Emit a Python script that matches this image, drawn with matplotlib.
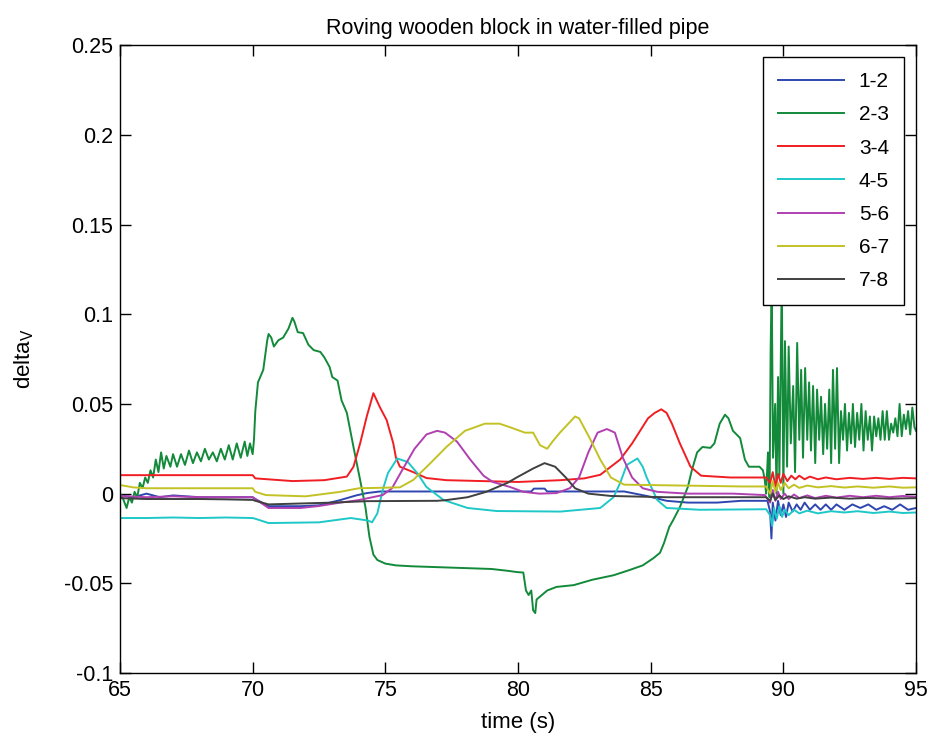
import matplotlib
matplotlib.use("Agg")
import matplotlib.pyplot as plt
from matplotlib.ticker import FixedLocator

plt.rcParams['font.family'] = ['Liberation Sans', 'DejaVu Sans']

labels = ["1-2", "2-3", "3-4", "4-5", "5-6", "6-7", "7-8"]
colors = ["#2f46b0", "#128a3a", "#f01e23", "#1ec8c8", "#b040b0", "#c2c224", "#404040"]

# 1-2
t12 = [65, 65.5, 66, 66.5, 67, 68, 69, 70, 70.1, 70.6, 71.8, 72.5, 73.3, 73.9, 74.3, 74.8,
       78.6, 80.5, 80.6, 81.0, 81.1, 84.0, 84.85, 85.6, 86.4, 87.5, 88.4, 89.4,
       89.5, 89.55, 89.6, 89.7, 89.8, 89.9, 90.0, 90.1, 90.2, 90.35, 90.5, 90.65, 90.8,
       91.0, 91.2, 91.4, 91.6, 91.8, 92.0, 92.3, 92.6, 92.9, 93.2, 93.5, 93.8, 94.1,
       94.4, 94.7, 95.0]
v12 = [-0.001, -0.002, 0.000, -0.002, -0.001, -0.002, -0.002, -0.002, -0.003, -0.007,
       -0.007, -0.0065, -0.0036, -0.001, 0.0003, 0.0012,
       0.0012, 0.0012, 0.0028, 0.0028, 0.0012, 0.0012, -0.0013, -0.004, -0.005, -0.005,
       -0.004, -0.004,
       -0.010, -0.025, -0.005, -0.015, -0.004, -0.012, -0.006, -0.013, -0.005, -0.010,
       -0.006, -0.009, -0.005,
       -0.009, -0.006, -0.009, -0.006, -0.009, -0.006, -0.009, -0.006, -0.008, -0.006,
       -0.009, -0.007, -0.009, -0.006, -0.009, -0.008]

# 2-3
t23 = [65.0, 65.12, 65.25, 65.35, 65.45, 65.55, 65.65, 65.75, 65.85, 65.95, 66.05, 66.15,
       66.25, 66.35, 66.45, 66.55, 66.65, 66.75, 66.9, 67.0, 67.15, 67.3, 67.45, 67.6,
       67.75, 67.9, 68.05, 68.2, 68.35, 68.5, 68.65, 68.8, 68.95, 69.1, 69.25, 69.4,
       69.55, 69.7, 69.8, 69.9, 70.0, 70.05, 70.1, 70.2, 70.4, 70.55, 70.6, 70.7, 70.8,
       70.97, 71.15, 71.35, 71.5, 71.57, 71.7, 71.9, 72.1, 72.3, 72.55, 72.7, 72.9, 73.0,
       73.2, 73.35, 73.55, 73.8, 74.05, 74.25, 74.4, 74.55, 74.7, 75.0, 75.4, 76.0, 77.0,
       78.0, 79.0, 79.6, 79.95, 80.2, 80.3, 80.4, 80.5, 80.57, 80.65, 80.7, 80.9, 81.1,
       81.45, 82.1, 82.8, 83.6, 84.2, 84.7, 85.1, 85.35, 85.5, 85.6, 85.7, 85.85, 86.1,
       86.4, 86.55, 86.75, 86.95, 87.25, 87.4, 87.6, 87.8, 87.93, 88.1, 88.37, 88.55,
       88.7, 89.1, 89.23, 89.3, 89.35,
       89.42, 89.48, 89.52, 89.56, 89.61, 89.69, 89.74, 89.8, 89.85, 89.94, 90.0, 90.06,
       90.14, 90.2, 90.28, 90.37, 90.44, 90.52, 90.6, 90.67, 90.74, 90.82, 90.9, 90.97,
       91.04, 91.12, 91.2, 91.27, 91.35, 91.42, 91.5, 91.57, 91.65, 91.73, 91.8, 91.87,
       91.95, 92.02, 92.1, 92.17, 92.25, 92.32, 92.4, 92.47, 92.55, 92.62, 92.7, 92.78,
       92.86, 92.94, 93.02, 93.1, 93.18, 93.26, 93.34, 93.42, 93.5, 93.58, 93.66, 93.74,
       93.82, 93.9, 93.98, 94.06, 94.14, 94.22, 94.3, 94.38, 94.46, 94.54, 94.62, 94.7,
       94.78, 94.86, 94.94, 95.0]
v23 = [0.000, -0.003, -0.008, -0.002, -0.005, 0.001, -0.002, 0.006, 0.003, 0.009, 0.006,
       0.013, 0.009, 0.019, 0.012, 0.023, 0.014, 0.021, 0.015, 0.022, 0.015, 0.022, 0.016,
       0.024, 0.017, 0.023, 0.018, 0.025, 0.019, 0.023, 0.018, 0.025, 0.019, 0.027, 0.019,
       0.028, 0.020, 0.029, 0.021, 0.028, 0.022, 0.030, 0.046, 0.062, 0.069, 0.0855, 0.089,
       0.087, 0.082, 0.0855, 0.087, 0.092, 0.098, 0.096, 0.090, 0.0895, 0.083, 0.080, 0.079,
       0.076, 0.0706, 0.065, 0.063, 0.052, 0.045, 0.026, 0.0076, -0.0075, -0.024, -0.034,
       -0.037, -0.039, -0.040, -0.0405, -0.041, -0.0415, -0.042, -0.043, -0.0437, -0.044,
       -0.054, -0.0565, -0.054, -0.065, -0.0666, -0.059, -0.0565, -0.054, -0.052, -0.051,
       -0.048, -0.0455, -0.0426, -0.040, -0.036, -0.033, -0.0276, -0.023, -0.0186, -0.0147,
       -0.0075, 0.0037, 0.013, 0.023, 0.026, 0.0255, 0.028, 0.039, 0.044, 0.042, 0.035,
       0.031, 0.019, 0.015, 0.015, 0.013, 0.0076, 0.0,
       0.023, -0.002, 0.080, 0.120, 0.020, 0.050, 0.000, 0.065, 0.010, 0.120, 0.000, 0.085,
       0.015, 0.082, 0.028, 0.060, 0.012, 0.084, 0.030, 0.069, 0.020, 0.070, 0.030, 0.062,
       0.024, 0.060, 0.017, 0.058, 0.030, 0.054, 0.022, 0.050, 0.025, 0.058, 0.017, 0.069,
       0.025, 0.070, 0.017, 0.046, 0.030, 0.050, 0.024, 0.045, 0.028, 0.050, 0.026, 0.045,
       0.030, 0.050, 0.024, 0.046, 0.030, 0.043, 0.024, 0.043, 0.032, 0.042, 0.030, 0.046,
       0.030, 0.046, 0.030, 0.039, 0.034, 0.042, 0.032, 0.050, 0.032, 0.044, 0.036, 0.046,
       0.033, 0.048, 0.037, 0.035]

# 3-4
t34 = [65, 70, 70.1, 71.5, 72.7, 73.55, 73.8, 74.05, 74.3, 74.55, 74.8, 75.05, 75.3, 75.4,
       75.55, 76.05, 76.55, 77.3, 80.0, 81.6, 82.5, 83.1, 83.85, 84.3, 84.6, 84.9, 85.15,
       85.4, 85.6, 85.8, 86.1, 86.5, 86.9, 88.0, 89.35,
       89.5, 89.6, 89.7, 89.8, 89.9, 90.0, 90.15, 90.3, 90.45, 90.6, 90.8, 91.0, 91.3, 91.6,
       92.0, 92.5, 93.0, 93.5, 94.0, 94.5, 95.0]
v34 = [0.0103, 0.0103, 0.0085, 0.007, 0.0075, 0.0095, 0.015, 0.028, 0.043, 0.056, 0.048,
       0.041, 0.028, 0.020, 0.015, 0.012, 0.0087, 0.0075, 0.0065, 0.0075, 0.0085, 0.0105,
       0.019, 0.028, 0.035, 0.042, 0.045, 0.047, 0.045, 0.039, 0.028, 0.015, 0.010, 0.009,
       0.009,
       0.006, 0.012, 0.004, 0.011, 0.006, 0.011, 0.007, 0.010, 0.008, 0.010, 0.008, 0.0095,
       0.008, 0.009, 0.008, 0.0088, 0.0082, 0.0088, 0.0082, 0.0088, 0.0085]

# 4-5
t45 = [65, 66, 67, 68, 69, 70, 70.1, 70.6, 72.5, 73.7, 74.35, 74.5, 74.7, 74.9, 75.1,
       75.45, 75.85, 76.2, 76.55, 77.2, 78.1, 79.2, 81.6, 83.1, 83.6, 83.85, 84.1, 84.5,
       84.7, 84.85, 85.25, 85.6, 86.85, 89.35,
       89.5, 89.58, 89.65, 89.75, 89.85, 89.95, 90.05, 90.2, 90.4, 90.6, 90.9, 91.3, 91.8,
       92.3, 92.8, 93.4, 94.0, 94.5, 95.0]
v45 = [-0.0136, -0.0136, -0.0133, -0.0136, -0.0133, -0.0136, -0.014, -0.0164, -0.016,
       -0.0136, -0.015, -0.016, -0.011, 0.002, 0.0115, 0.0196, 0.0176, 0.0115, 0.0037,
       -0.0036, -0.008, -0.0097, -0.010, -0.008, -0.002, 0.006, 0.016, 0.0196, 0.015,
       0.009, -0.0036, -0.008, -0.009, -0.0087,
       -0.012, -0.018, -0.008, -0.014, -0.007, -0.013, -0.009, -0.012, -0.009, -0.011,
       -0.0095, -0.011, -0.0098, -0.0105, -0.0098, -0.0108, -0.010, -0.0108, -0.0105]

# 5-6
t56 = [65, 66, 67, 68, 69, 70, 70.1, 70.6, 71.8, 72.5, 73.3, 74.0, 74.9, 75.25, 75.67,
       76.1, 76.55, 76.95, 77.25, 77.7, 78.2, 78.7, 79.05, 79.7, 80.2, 80.8, 81.45, 81.95,
       82.3, 82.65, 83.0, 83.35, 83.65, 83.95, 84.3, 84.7, 85.25, 86.4, 88.1, 89.3,
       89.5, 89.6, 89.7, 89.8, 89.9, 90.05, 90.2, 90.4, 90.6, 90.9, 91.2, 91.6, 92.0, 92.5,
       93.0, 93.5, 94.0, 94.5, 95.0]
v56 = [-0.0013, -0.002, -0.0015, -0.002, -0.002, -0.002, -0.003, -0.008, -0.008, -0.0069,
       -0.005, -0.0036, -0.0008, 0.003, 0.014, 0.025, 0.033, 0.035, 0.034, 0.029, 0.019,
       0.010, 0.0065, 0.0037, 0.001, 0.0, 0.0003, 0.003, 0.009, 0.023, 0.034, 0.036, 0.034,
       0.020, 0.009, 0.003, 0.001, 0.0, 0.0, -0.0008,
       -0.005, 0.002, -0.004, 0.001, -0.003, 0.0, -0.003, -0.0005, -0.0025, -0.001, -0.0025,
       -0.0012, -0.0022, -0.0012, -0.002, -0.0012, -0.002, -0.0013, -0.0018]

# 6-7
t67 = [65, 65.5, 66, 67, 68, 69, 70, 70.1, 70.5, 72, 73.3, 74, 75.55, 76.05, 76.7, 77.3,
       78.0, 78.75, 79.3, 79.7, 80.26, 80.57, 80.83, 81.1, 81.3, 81.58, 82.15, 82.3, 82.7,
       83.1, 83.5, 84.0, 88.4, 89.35,
       89.5, 89.6, 89.7, 89.8, 89.9, 90.05, 90.2, 90.4, 90.6, 90.9, 91.3, 91.8, 92.3, 92.8,
       93.4, 94.0, 94.5, 95.0]
v67 = [0.0048, 0.0035, 0.003, 0.003, 0.003, 0.003, 0.003, 0.001, -0.0008, -0.0015, 0.001,
       0.003, 0.0035, 0.0076, 0.017, 0.026, 0.035, 0.039, 0.039, 0.037, 0.034, 0.034, 0.027,
       0.025, 0.029, 0.034, 0.043, 0.042, 0.031, 0.019, 0.009, 0.005, 0.004, 0.004,
       0.0, 0.007, 0.001, 0.006, 0.002, 0.006, 0.003, 0.005, 0.0032, 0.0045, 0.0035, 0.0042,
       0.0034, 0.004, 0.0033, 0.004, 0.0033, 0.0035]

# 7-8
t78 = [65, 66, 67, 68, 69, 70, 70.1, 70.6, 73.0, 74.3, 76.95, 77.3, 78.1, 78.8, 79.6,
       79.95, 80.57, 81.0, 81.4, 81.8, 82.15, 82.65, 83.5, 85.6, 89.35,
       89.5, 89.6, 89.7, 89.85, 90.0, 90.2, 90.5, 90.8, 91.2, 91.8, 92.5, 93.2, 94.0, 95.0]
v78 = [-0.0025, -0.003, -0.003, -0.003, -0.0032, -0.0035, -0.004, -0.006, -0.005, -0.0042,
       -0.004, -0.0036, -0.002, 0.001, 0.006, 0.009, 0.014, 0.017, 0.015, 0.009, 0.003, 0.0,
       -0.0013, -0.002, -0.002,
       -0.004, 0.0, -0.0035, -0.001, -0.003, -0.0015, -0.0028, -0.002, -0.0028, -0.0022,
       -0.0028, -0.0024, -0.0028, -0.0025]

series_t = [t12, t23, t34, t45, t56, t67, t78]
series_v = [v12, v23, v34, v45, v56, v67, v78]

xticks = [65, 70, 75, 80, 85, 90, 95]
yticks = [-0.1, -0.05, 0, 0.05, 0.1, 0.15, 0.2, 0.25]
ytick_labels = ["-0.1", "-0.05", "0", "0.05", "0.1", "0.15", "0.2", "0.25"]

fig = plt.figure(figsize=(9.3, 7.4), dpi=100)
ax = fig.add_axes([0.129, 0.0905, 0.856, 0.8485])

for t, v, lab, c in zip(series_t, series_v, labels, colors):
    ax.plot(t, v, color=c, lw=1.4, label=lab)

ax.set_xlim(65, 95)
ax.set_ylim(-0.1, 0.25)
ax.xaxis.set_major_locator(FixedLocator(xticks))
ax.set_xticklabels([str(x) for x in xticks])
ax.yaxis.set_major_locator(FixedLocator(yticks))
ax.set_yticklabels(ytick_labels)
ax.tick_params(direction='in', top=True, right=True, length=8, width=1,
               labelsize=15.5, pad=5)
for s in ax.spines.values():
    s.set_linewidth(1.0)

ax.set_title("Roving wooden block in water-filled pipe", fontsize=15.5, pad=8)
ax.set_xlabel("time (s)", fontsize=16, labelpad=8)
ax.set_ylabel("delta$_\\mathregular{V}$", fontsize=16, labelpad=20)

leg = ax.legend(loc='upper right', fontsize=15, frameon=True, fancybox=False,
                edgecolor='black', framealpha=1, handlelength=3.2,
                labelspacing=0.68, borderpad=0.72, borderaxespad=0.58,
                handletextpad=0.7)
leg.get_frame().set_linewidth(1.0)

fig.savefig("out.png", dpi=100)
